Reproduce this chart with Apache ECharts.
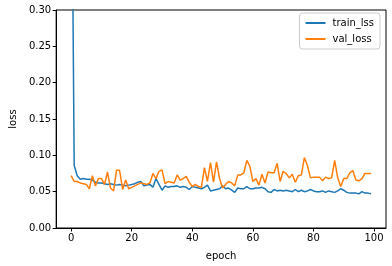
<!DOCTYPE html>
<html><head><meta charset="utf-8">
<script src="https://cdn.jsdelivr.net/npm/echarts@6/dist/echarts.min.js"></script>
<style>html,body{margin:0;padding:0;background:#fff}#c{width:392px;height:266px}</style>
</head><body><div id="c"></div>
<script>
const trainLoss = [0.62,0.086,0.072,0.067,0.068,0.067,0.067,0.066,0.063,0.062,
0.062,0.061,0.060,0.061,0.060,0.059,0.060,0.059,0.058,0.059,
0.060,0.061,0.063,0.064,0.058,0.059,0.060,0.056,0.068,0.060,
0.052,0.058,0.056,0.057,0.057,0.058,0.056,0.057,0.056,0.053,
0.057,0.056,0.055,0.054,0.056,0.059,0.051,0.052,0.053,0.054,
0.058,0.054,0.055,0.052,0.049,0.055,0.054,0.054,0.057,0.054,
0.054,0.055,0.055,0.056,0.054,0.050,0.049,0.053,0.051,0.052,
0.051,0.052,0.051,0.050,0.053,0.050,0.052,0.050,0.051,0.053,
0.051,0.050,0.050,0.051,0.049,0.051,0.050,0.049,0.051,0.054,
0.052,0.049,0.048,0.048,0.048,0.047,0.050,0.048,0.048,0.047];
const valLoss = [0.072,0.064,0.064,0.062,0.061,0.060,0.054,0.072,0.058,0.068,
0.068,0.060,0.077,0.055,0.051,0.080,0.079,0.053,0.066,0.054,
0.056,0.058,0.060,0.062,0.061,0.060,0.062,0.075,0.068,0.078,
0.080,0.061,0.064,0.063,0.062,0.073,0.066,0.068,0.071,0.063,
0.057,0.060,0.057,0.056,0.083,0.064,0.090,0.063,0.091,0.068,
0.055,0.060,0.064,0.062,0.058,0.073,0.073,0.076,0.093,0.085,
0.064,0.068,0.059,0.074,0.062,0.077,0.076,0.076,0.089,0.064,
0.078,0.075,0.069,0.074,0.063,0.072,0.073,0.097,0.086,0.069,
0.070,0.070,0.070,0.065,0.070,0.068,0.069,0.093,0.069,0.057,
0.068,0.068,0.076,0.079,0.066,0.065,0.068,0.075,0.075,0.075];
const xTicks = [0,20,40,60,80,100];
const seriesNames = ['train_lss','val_loss'];

const font = 'DejaVu Sans';
const chart = echarts.init(document.getElementById('c'), null, {renderer:'canvas'});
chart.setOption({
  animation:false,
  textStyle:{fontFamily:font},
  grid:{left:51,right:6,top:10,bottom:38,show:true,borderColor:'#000',borderWidth:1,backgroundColor:'transparent'},
  legend:{
    right:12,top:13,orient:'vertical',
    data:seriesNames,
    icon:'rect',
    itemWidth:20,itemHeight:2,itemGap:6,
    textStyle:{fontFamily:font,fontSize:10,color:'#000',padding:[0,0,0,2]},
    backgroundColor:'#fff',borderColor:'#ccc',borderWidth:1,borderRadius:3,
    padding:[5,6,5,6]
  },
  xAxis:{
    type:'value',min:-4.95,max:103.95,
    name:'epoch',nameLocation:'middle',nameGap:23,
    nameTextStyle:{fontFamily:font,fontSize:10,color:'#000'},
    axisLine:{show:true,onZero:false,lineStyle:{color:'#000',width:1}},
    axisTick:{show:true,length:3.5,customValues:xTicks,lineStyle:{color:'#000'}},
    axisLabel:{customValues:xTicks,fontFamily:font,fontSize:10,color:'#000',margin:5},
    splitLine:{show:false}
  },
  yAxis:{
    type:'value',min:0,max:0.30,interval:0.05,
    name:'loss',nameLocation:'middle',nameGap:38,
    nameTextStyle:{fontFamily:font,fontSize:10,color:'#000'},
    axisLine:{show:true,onZero:false,lineStyle:{color:'#000',width:1}},
    axisTick:{show:true,length:3.5,lineStyle:{color:'#000'}},
    axisLabel:{fontFamily:font,fontSize:10,color:'#000',margin:5,formatter:v=>v.toFixed(2)},
    splitLine:{show:false}
  },
  series:[
    {name:seriesNames[0],type:'line',symbol:'none',clip:true,
     data:trainLoss.map((v,i)=>[i,v]),lineStyle:{color:'#1f77b4',width:1.5},itemStyle:{color:'#1f77b4'}},
    {name:seriesNames[1],type:'line',symbol:'none',clip:true,
     data:valLoss.map((v,i)=>[i,v]),lineStyle:{color:'#ff7f0e',width:1.5},itemStyle:{color:'#ff7f0e'}}
  ]
});
</script></body></html>
